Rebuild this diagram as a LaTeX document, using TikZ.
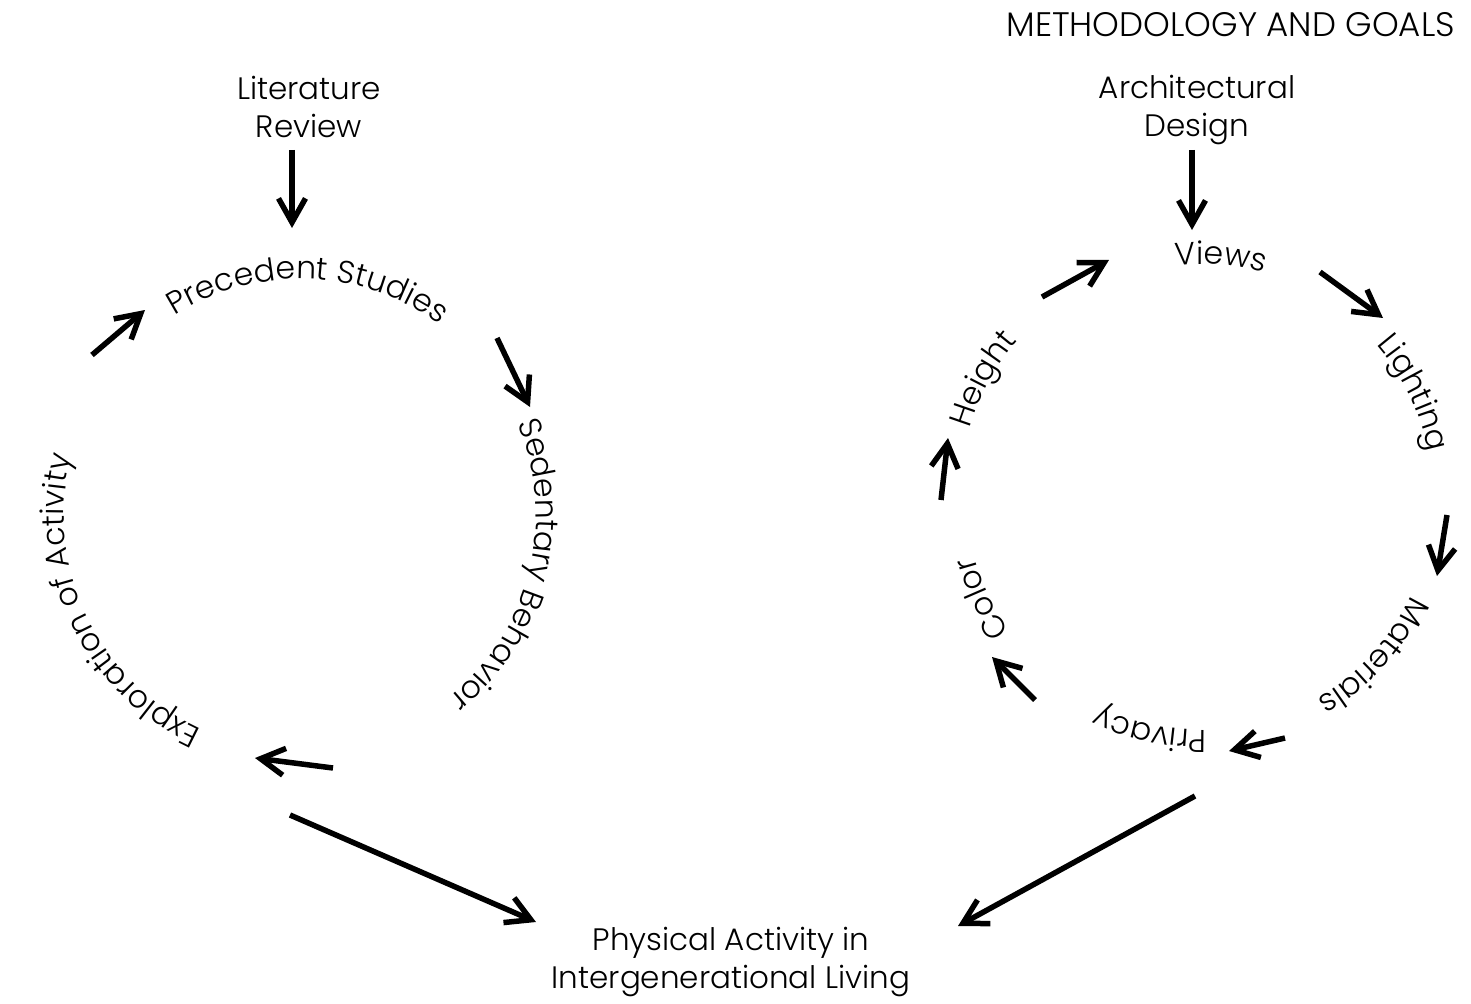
\documentclass[tikz,border=0pt]{standalone}
\usepackage{fontspec}
\setmainfont{Poppins}[UprightFont=* Light]
\usetikzlibrary{decorations.text,arrows.meta}
\begin{document}
\begin{tikzpicture}[x=1pt,y=-1pt,
  flow/.style={line width=5.5pt,line cap=butt,-{Straight Barb[length=24pt,width=27pt]}},
  lbl/.style={align=center,font=\fontsize{31}{38}\selectfont,inner sep=0pt},
  ring/.style={decorate,decoration={text along path,text align=center,text={#1}}}
]
\useasboundingbox[fill=white] (0,0) rectangle (1471,1003);
\fontsize{31.5}{38}\selectfont
% titles
\node[anchor=east,inner sep=0pt,font=\fontsize{34}{38}\selectfont] (title) at (1455,25) {METHODOLOGY AND GOALS};
\node[lbl] (lit) at (309,107) {Literature\\Review};
\node[lbl] (arch) at (1197,110) {Architectural\\Design};
\node[lbl] (phys) at (731,962) {Physical Activity in\\Intergenerational Living};
% left ring labels (baseline radius 236 about (300,515))
\coordinate (lc) at (300,515);
\path[ring={Precedent Studies}] (lc) ++(-149:236) arc[start angle=-149,end angle=-27,radius=236];
\path[ring={Sedentary Behavior}] (lc) ++(-50:236) arc[start angle=-50,end angle=78,radius=236];
\path[ring={Exploration of Activity}] (lc) ++(92:236) arc[start angle=92,end angle=217,radius=236];
% right ring labels (baseline radius 233 about (1200,497))
\coordinate (rc) at (1200,497);
\path[ring={Views}] (rc) ++(-125:233) arc[start angle=-125,end angle=-45,radius=233];
\path[ring={Lighting}] (rc) ++(-70:233) arc[start angle=-70,end angle=18,radius=233];
\path[ring={Materials}] (rc) ++(-3:233) arc[start angle=-3,end angle=88,radius=233];
\path[ring={Privacy}] (rc) ++(61:233) arc[start angle=61,end angle=143,radius=233];
\path[ring={Color}] (rc) ++(115:233) arc[start angle=115,end angle=195,radius=233];
\path[ring={Height}] (rc) ++(165:240) arc[start angle=165,end angle=252,radius=240];
% arrow end points
\coordinate (a1s) at (292,150); \coordinate (a1e) at (292,228);
\coordinate (a2s) at (497,338); \coordinate (a2e) at (530,407);
\coordinate (a3s) at (333,768); \coordinate (a3e) at (255,758);
\coordinate (a4s) at (92,355);  \coordinate (a4e) at (145,310);
\coordinate (a5s) at (290,815); \coordinate (a5e) at (536,922);
\coordinate (b1s) at (1192,150); \coordinate (b1e) at (1192,230);
\coordinate (b2s) at (1042,297); \coordinate (b2e) at (1109,260);
\coordinate (b3s) at (1320,272); \coordinate (b3e) at (1383,318);
\coordinate (b4s) at (1447,515); \coordinate (b4e) at (1437,576);
\coordinate (b5s) at (1285,738); \coordinate (b5e) at (1229,751);
\coordinate (b6s) at (1035,700); \coordinate (b6e) at (992,657);
\coordinate (b7s) at (941,500); \coordinate (b7e) at (948,438);
\coordinate (b8s) at (1195,796); \coordinate (b8e) at (958,926);
\draw[flow] (a1s) -- (a1e);
\draw[flow] (a2s) -- (a2e);
\draw[flow] (a3s) -- (a3e);
\draw[flow] (a4s) -- (a4e);
\draw[flow] (a5s) -- (a5e);
\draw[flow] (b1s) -- (b1e);
\draw[flow] (b2s) -- (b2e);
\draw[flow] (b3s) -- (b3e);
\draw[flow] (b4s) -- (b4e);
\draw[flow] (b5s) -- (b5e);
\draw[flow] (b6s) -- (b6e);
\draw[flow] (b7s) -- (b7e);
\draw[flow] (b8s) -- (b8e);
\end{tikzpicture}
\end{document}
